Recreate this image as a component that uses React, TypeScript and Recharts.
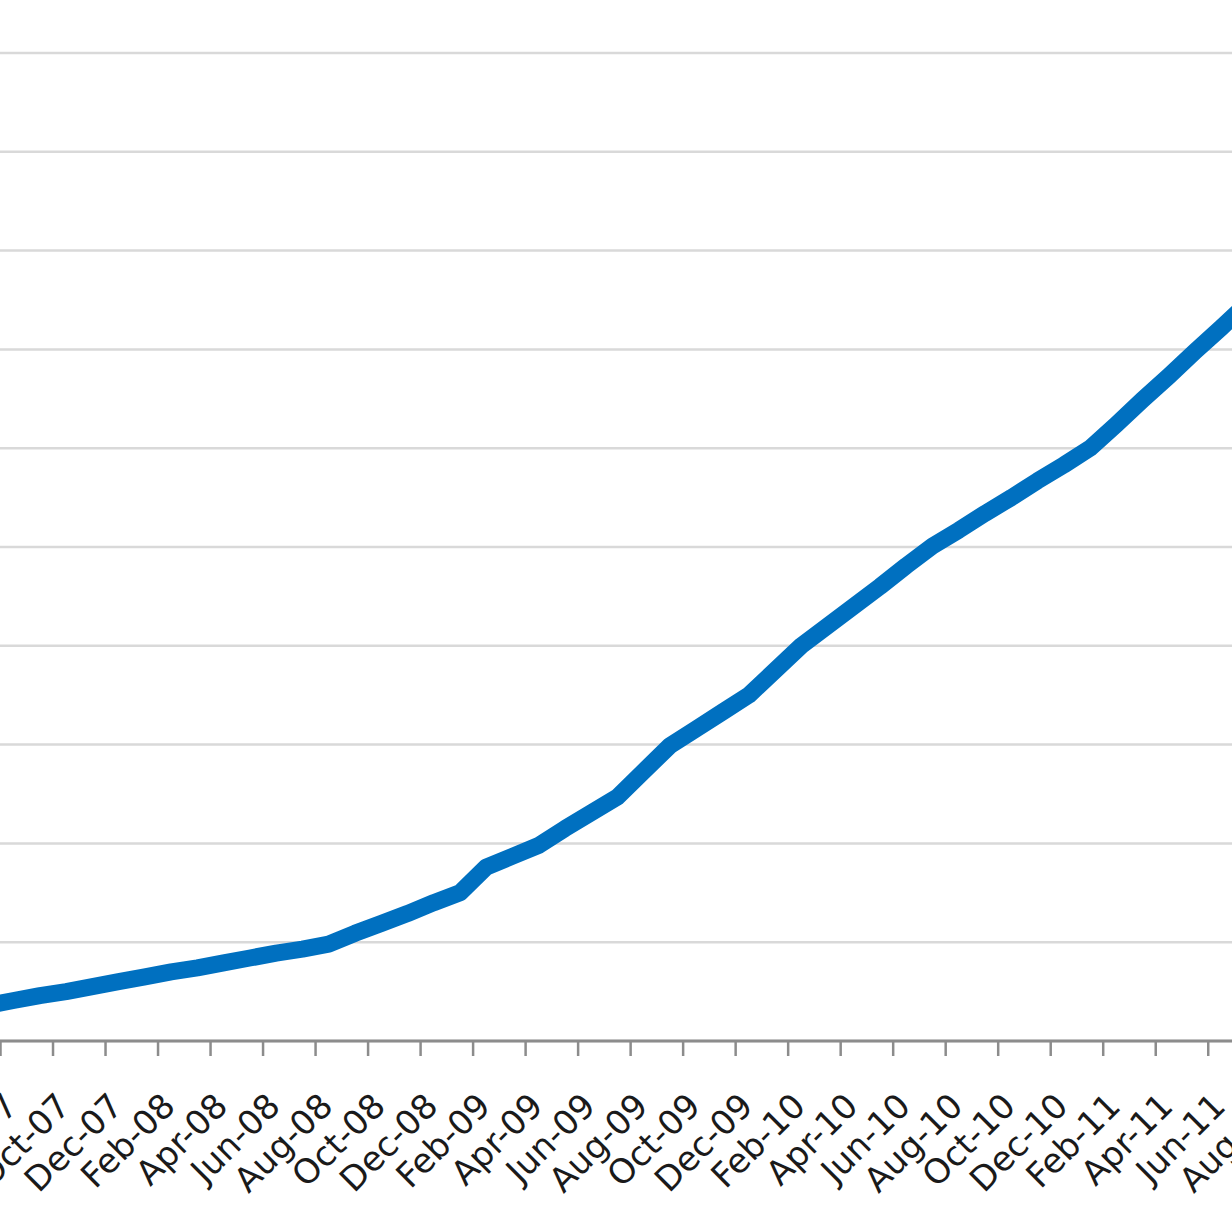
import React from "react";
import { CartesianGrid, Line, LineChart, XAxis, YAxis } from "recharts";

// monthly categories (chart is cropped: Jun-07 and Aug-11 fall outside the frame)
const months = [
  "Jun-07", "Jul-07", "Aug-07", "Sep-07", "Oct-07", "Nov-07", "Dec-07",
  "Jan-08", "Feb-08", "Mar-08", "Apr-08", "May-08", "Jun-08", "Jul-08", "Aug-08", "Sep-08", "Oct-08", "Nov-08", "Dec-08",
  "Jan-09", "Feb-09", "Mar-09", "Apr-09", "May-09", "Jun-09", "Jul-09", "Aug-09", "Sep-09", "Oct-09", "Nov-09", "Dec-09",
  "Jan-10", "Feb-10", "Mar-10", "Apr-10", "May-10", "Jun-10", "Jul-10", "Aug-10", "Sep-10", "Oct-10", "Nov-10", "Dec-10",
  "Jan-11", "Feb-11", "Mar-11", "Apr-11", "May-11", "Jun-11", "Jul-11", "Aug-11",
];

const values = [
  31, 36, 41, 46, 50, 55, 60,
  65, 70, 74, 79, 84, 89, 93, 98, 109, 119, 129, 140,
  150, 176, 187, 198, 215, 231, 247, 273, 299, 316, 333, 350,
  375, 400, 420, 440, 460, 481, 501, 517, 534, 550, 567, 583,
  600, 624, 649, 673, 698, 722, 747, 771,
];

const yTicks = [0, 100, 200, 300, 400, 500, 600, 700, 800, 900, 1000];

// tick marks sit between categories, one every two months
const boundaryTicks = months.map((_, i) => i - 0.5).filter((_, i) => i % 2 === 0);

const data = months.map((month, i) => ({ idx: i, month, value: values[i] }));

const CHART_W = 1339;
const CHART_H = 1232;
const HALF_STEP = CHART_W / months.length / 2;

function MonthTick(props: any) {
  const { x, y, payload } = props;
  const label = months[payload.value + 0.5];
  if (!label) return null;
  const ax = x + HALF_STEP + 6;
  const ay = y + 52;
  return (
    <text
      x={ax}
      y={ay}
      textAnchor="end"
      transform={`rotate(-45, ${ax}, ${ay})`}
      fontFamily="DejaVu Sans, Verdana, sans-serif"
      fontSize={34}
      fill="#1a1a1a"
    >
      {label}
    </text>
  );
}

export default function App() {
  return (
    <div
      style={{
        position: "fixed",
        left: 0,
        top: 0,
        width: 1232,
        height: 1232,
        overflow: "hidden",
        background: "#fff",
      }}
    >
      <div style={{ position: "absolute", left: -52.5, top: 0 }}>
        <LineChart width={CHART_W} height={CHART_H} data={data} margin={{ top: 53, right: 0, bottom: 0, left: 0 }}>
          <CartesianGrid vertical={false} stroke="#d9d9d9" strokeWidth={2.5} />
          <XAxis
            dataKey="idx"
            type="number"
            domain={[-0.5, months.length - 0.5]}
            ticks={boundaryTicks}
            interval={0}
            height={191}
            tickSize={15}
            tickMargin={0}
            axisLine={{ stroke: "#8c8c8c", strokeWidth: 3 }}
            tickLine={{ stroke: "#8c8c8c", strokeWidth: 2.5 }}
            tick={<MonthTick />}
          />
          <YAxis hide domain={[0, 1000]} ticks={yTicks} />
          <Line
            type="linear"
            dataKey="value"
            stroke="#0070c0"
            strokeWidth={17}
            strokeLinejoin="round"
            dot={false}
            isAnimationActive={false}
          />
        </LineChart>
      </div>
    </div>
  );
}
